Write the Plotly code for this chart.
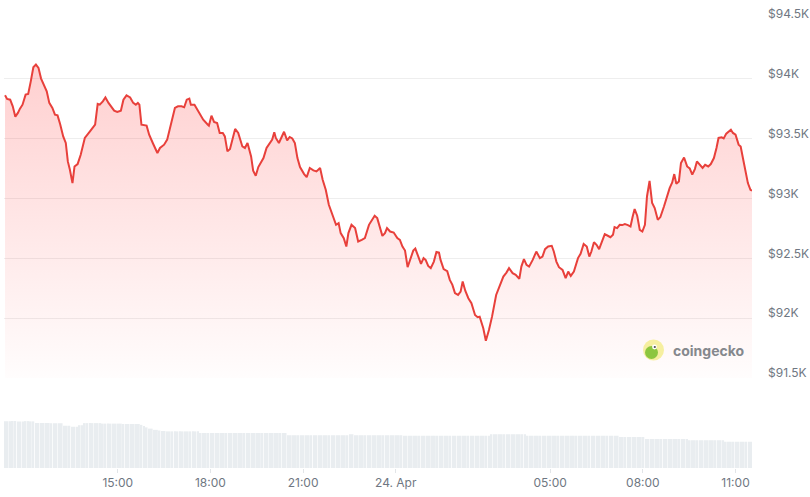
import pandas as pd
import plotly.graph_objects as go

# ---- price series (minutes after 2025-04-23 11:21, USD) ----
minutes = [0, 4, 10, 15, 20, 25, 29, 34, 40, 45, 50, 55, 60, 65, 70, 76, 81, 86, 92, 97,
           102, 107, 113, 118, 122, 126, 131, 135, 141, 147, 155, 165, 175, 180, 184, 190, 195, 201, 206, 212,
           218, 225, 230, 236, 243, 249, 254, 258, 261, 265, 275, 280, 287, 296, 301, 309, 315, 322, 330, 336,
           343, 348, 353, 358, 361, 368, 375, 385, 394, 396, 401, 406, 412, 417, 423, 427, 432, 437, 447, 453,
           461, 466, 471, 478, 482, 487, 492, 502, 508, 515, 519, 523, 526, 532, 537, 542, 548, 553, 558, 563,
           568, 573, 581, 586, 592, 599, 605, 612, 617, 623, 629, 635, 643, 648, 652, 658, 663, 667, 673, 680,
           686, 693, 699, 707, 713, 718, 723, 728, 733, 738, 742, 748, 755, 762, 767, 772, 777, 782, 788, 793,
           797, 802, 808, 813, 817, 822, 827, 833, 838, 843, 846, 852, 859, 864, 869, 874, 880, 885, 889, 894,
           900, 906, 913, 918, 922, 929, 934, 940, 946, 954, 961, 968, 974, 979, 986, 992, 999, 1003, 1008, 1013,
           1018, 1025, 1032, 1039, 1044, 1049, 1055, 1062, 1066, 1071, 1076, 1083, 1089, 1094, 1099, 1105, 1113, 1118, 1124, 1130,
           1135, 1139, 1144, 1149, 1154, 1159, 1165, 1170, 1176, 1181, 1184, 1189, 1194, 1199, 1204, 1210, 1215, 1219, 1223, 1228,
           1233, 1238, 1243, 1247, 1252, 1257, 1262, 1268, 1273, 1280, 1285, 1291, 1296, 1300, 1304, 1309, 1313, 1319, 1325, 1330,
           1335, 1340, 1344, 1349, 1355, 1360, 1366, 1371, 1377, 1382, 1386, 1392, 1396, 1401, 1406, 1410, 1414, 1419, 1425, 1429,
           1434, 1438, 1443, 1448, 1451]
prices = [93862, 93832, 93826, 93770, 93684, 93715, 93751, 93784, 93868, 93874, 93979, 94097, 94119, 94092, 94002, 93946, 93896, 93799, 93757, 93701,
          93695, 93623, 93519, 93464, 93310, 93240, 93129, 93268, 93288, 93366, 93506, 93561, 93617, 93790, 93784, 93812, 93845, 93799, 93770, 93734,
          93723, 93734, 93826, 93862, 93845, 93799, 93784, 93799, 93784, 93617, 93609, 93533, 93464, 93380, 93422, 93450, 93492, 93617, 93757, 93770,
          93770, 93762, 93826, 93835, 93784, 93784, 93728, 93659, 93617, 93609, 93692, 93640, 93631, 93548, 93548, 93519, 93394, 93414, 93581, 93548,
          93435, 93422, 93464, 93352, 93232, 93190, 93263, 93338, 93422, 93464, 93492, 93553, 93506, 93464, 93519, 93558, 93486, 93514, 93502, 93464,
          93338, 93263, 93204, 93179, 93255, 93235, 93226, 93255, 93157, 93073, 92948, 92878, 92780, 92794, 92711, 92669, 92599, 92711, 92780, 92753,
          92641, 92655, 92669, 92780, 92816, 92856, 92836, 92753, 92688, 92711, 92753, 92724, 92716, 92669, 92655, 92599, 92565, 92426, 92502, 92565,
          92582, 92529, 92454, 92502, 92487, 92437, 92418, 92473, 92554, 92548, 92487, 92410, 92393, 92320, 92278, 92209, 92194, 92222, 92306, 92230,
          92167, 92125, 92027, 92008, 92013, 91916, 91812, 91902, 92013, 92194, 92264, 92348, 92381, 92418, 92376, 92362, 92328, 92431, 92493, 92446,
          92431, 92487, 92557, 92502, 92515, 92577, 92599, 92605, 92557, 92473, 92426, 92404, 92334, 92389, 92353, 92389, 92502, 92538, 92621, 92599,
          92515, 92557, 92635, 92613, 92577, 92627, 92702, 92691, 92677, 92697, 92761, 92753, 92780, 92778, 92786, 92778, 92766, 92845, 92912, 92856,
          92738, 92724, 92780, 93017, 93148, 92962, 92920, 92822, 92845, 92933, 93004, 93087, 93134, 93204, 93123, 93143, 93297, 93343, 93268, 93251,
          93199, 93246, 93310, 93288, 93255, 93282, 93268, 93288, 93338, 93422, 93506, 93511, 93502, 93542, 93558, 93575, 93548, 93533, 93450, 93435,
          93324, 93240, 93129, 93073, 93065]

# ---- volume (USD billions, 5-minute bars), run-length ----
vol_levels = [37.4, 37.6, 37.2, 37.5, 37.3, 36.0, 35.8, 33.8, 33.0, 34.2, 35.9, 35.5, 35.2,
              34.5, 33.5, 32.5, 31.5, 30.5, 30.0, 29.6, 29.3, 28.0, 26.2, 27.0, 26.2,
              25.8, 27.0, 25.8, 24.8, 23.2, 22.2, 21.0]
vol_counts = [3, 2, 3, 2, 2, 6, 5, 3, 3, 2, 7, 8, 7,
              1, 1, 1, 2, 2, 1, 2, 13, 34, 24, 2, 19,
              34, 14, 36, 10, 17, 14, 11]

start = pd.Timestamp("2025-04-23 11:21")
times = [start + pd.Timedelta(minutes=m) for m in minutes]
volumes = [v for v, c in zip(vol_levels, vol_counts) for _ in range(c)]
vol_times = [start + pd.Timedelta(minutes=5 * i) for i in range(len(volumes))]

price_ticks = [91500, 92000, 92500, 93000, 93500, 94000, 94500]
price_labels = ["$91.5K", "$92K", "$92.5K", "$93K", "$93.5K", "$94K", "$94.5K"]
time_ticks = ["2025-04-23 15:00", "2025-04-23 18:00", "2025-04-23 21:00", "2025-04-24 00:00",
              "2025-04-24 05:00", "2025-04-24 08:00", "2025-04-24 11:00"]
time_labels = ["15:00", "18:00", "21:00", "24. Apr", "05:00", "08:00", "11:00"]

LABEL = "#6f7782"
FONT = "Inter, 'Noto Sans', sans-serif"

fig = go.Figure()
fig.add_trace(go.Bar(x=vol_times, y=volumes, yaxis="y2", xaxis="x",
                     marker=dict(color="#e9edf0", line=dict(width=0)), hoverinfo="skip"))
fig.add_trace(go.Scatter(
    x=times, y=prices, mode="lines", yaxis="y", xaxis="x",
    line=dict(color="#e8403b", width=2),
    fill="tozeroy",
    fillgradient=dict(type="vertical", start=91500, stop=94100,
                      colorscale=[[0, "rgba(255,20,20,0.01)"], [1, "rgba(255,20,20,0.2)"]]),
))

x_range = [start - pd.Timedelta(minutes=2), times[-1]]

fig.update_layout(
    width=810, height=497,
    margin=dict(l=4, r=58, t=19, b=29, autoexpand=False),
    paper_bgcolor="white", plot_bgcolor="white",
    showlegend=False, bargap=0.3,
    font=dict(family=FONT, size=12, color=LABEL),
    xaxis=dict(type="date", range=x_range, anchor="y2", automargin=False,
               tickvals=time_ticks, ticktext=time_labels,
               ticks="outside", ticklen=4, tickcolor="#e2e5e8",
               showgrid=False, showline=False, zeroline=False,
               tickfont=dict(size=12, color=LABEL)),
    yaxis=dict(domain=[0.2004, 1.0], range=[91500, 94500], side="right",
               anchor="x", automargin=False, tickvals=price_ticks, ticktext=price_labels,
               showgrid=True, gridcolor="#eeeeee", gridwidth=1,
               zeroline=False, showline=False, ticks="",
               ticklabelstandoff=15, ticklabelshift=-5,
               tickfont=dict(size=12, color=LABEL)),
    yaxis2=dict(domain=[0, 0.1047], range=[0, 37.6], anchor="x", automargin=False,
                showgrid=False, showticklabels=False, zeroline=False, showline=False),
)

# coingecko watermark
lx = (653.5 - 4) / 748
ly = (468 - 350) / 449
def circ(cx, cy, r, color):
    fig.add_shape(type="circle", xref="paper", yref="paper",
                  xsizemode="pixel", ysizemode="pixel",
                  xanchor=lx, yanchor=ly,
                  x0=cx - r, x1=cx + r, y0=cy - r, y1=cy + r,
                  fillcolor=color, line=dict(width=0), layer="above")
circ(0, 0, 10.5, "#f6efa0")
circ(-2, -2.5, 6.5, "#8dc63f")
circ(1.0, 3.0, 2.4, "white")
circ(1.3, 3.0, 1.1, "#4a4a4a")
fig.add_annotation(text="<b>coingecko</b>", xref="paper", yref="paper",
                   x=(671 - 4) / 748, y=ly, xanchor="left", yanchor="middle",
                   showarrow=False, font=dict(family=FONT, size=14, color="#85888d"))

fig.write_html("out.html")
